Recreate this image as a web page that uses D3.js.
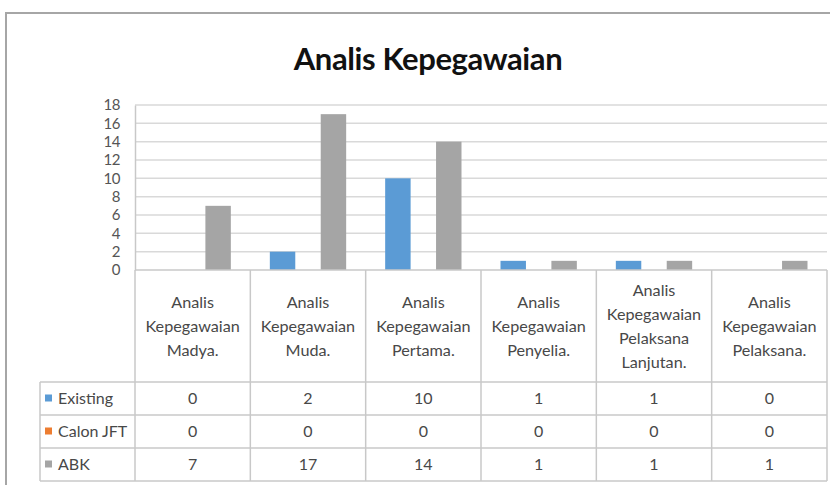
<!DOCTYPE html>
<html>
<head>
<meta charset="utf-8">
<script src="https://cdn.jsdelivr.net/npm/d3@7.9.0/dist/d3.min.js"></script>
<style>
  body { margin: 0; background: #fff; }
  svg { display: block; font-family: Lato, "Open Sans", sans-serif; }
</style>
</head>
<body>
<svg id="chart" width="830" height="485"></svg>
<script>
const title = 'Analis Kepegawaian';
const categories = [
  'Analis Kepegawaian Madya.',
  'Analis Kepegawaian Muda.',
  'Analis Kepegawaian Pertama.',
  'Analis Kepegawaian Penyelia.',
  'Analis Kepegawaian Pelaksana Lanjutan.',
  'Analis Kepegawaian Pelaksana.'
];
const seriesNames = ['Existing', 'Calon JFT', 'ABK'];
const existing = [0, 2, 10, 1, 1, 0];
const calonJft = [0, 0, 0, 0, 0, 0];
const abk = [7, 17, 14, 1, 1, 1];
const yTicks = [0, 2, 4, 6, 8, 10, 12, 14, 16, 18];

const seriesValues = [existing, calonJft, abk];
const colors = d3.scaleOrdinal(seriesNames, ['#5b9bd5', '#ed7d31', '#a5a5a5']);

const svg = d3.select('#chart');
const textColor = '#484848';
const lineColor = '#c8c8c8';

// outer frame (only top and left edges are visible in the crop)
svg.append('path')
  .attr('d', 'M6,485V13H830')
  .attr('fill', 'none')
  .attr('stroke', '#a6a6a6')
  .attr('stroke-width', 2);

svg.append('text')
  .attr('x', 428)
  .attr('y', 70)
  .attr('text-anchor', 'middle')
  .attr('font-size', 31)
  .attr('font-weight', 'bold')
  .attr('fill', '#111')
  .attr('letter-spacing', -0.4)
  .text(title);

const x = d3.scaleBand().domain(categories).range([135, 827]);
const xInner = d3.scaleBand().domain(seriesNames)
  .range([19.5, x.bandwidth() - 19.5]);
const y = d3.scaleLinear().domain([0, 18]).range([270, 105]);

// gridlines
svg.append('g')
  .selectAll('line')
  .data(yTicks.filter(d => d > 0))
  .join('line')
  .attr('x1', 135).attr('x2', 827)
  .attr('y1', d => y(d)).attr('y2', d => y(d))
  .attr('stroke', '#d9d9d9')
  .attr('stroke-width', 1.5);

// y axis
const yAxis = svg.append('g')
  .attr('transform', 'translate(135,0)')
  .call(d3.axisLeft(y).tickValues(yTicks).tickSize(0).tickPadding(15));
yAxis.select('.domain').attr('stroke', lineColor).attr('stroke-width', 1.5);
yAxis.selectAll('text')
  .attr('font-size', 15)
  .attr('font-family', 'Lato, sans-serif')
  .attr('fill', '#555')
  .attr('letter-spacing', -0.5);

// bars
const barData = [];
categories.forEach((c, i) => {
  seriesNames.forEach((s, j) => {
    barData.push({ category: c, series: s, value: seriesValues[j][i] });
  });
});

svg.append('g')
  .selectAll('rect')
  .data(barData)
  .join('rect')
  .attr('x', d => x(d.category) + xInner(d.series))
  .attr('y', d => y(d.value))
  .attr('width', xInner.bandwidth())
  .attr('height', d => y(0) - y(d.value))
  .attr('fill', d => colors(d.series));

// data table
const headerBottom = 382;
const rowHeight = 33;
const tableBottom = headerBottom + rowHeight * seriesNames.length;
const legendLeft = 40;
const table = svg.append('g')
  .attr('stroke', lineColor)
  .attr('stroke-width', 1.5);

// axis baseline
table.append('line')
  .attr('x1', 135).attr('x2', 827)
  .attr('y1', y(0)).attr('y2', y(0));

// column separators
const colEdges = categories.map(c => x(c)).concat([x.range()[1]]);
table.selectAll('line.col')
  .data(colEdges)
  .join('line')
  .attr('class', 'col')
  .attr('x1', d => d).attr('x2', d => d)
  .attr('y1', y(0)).attr('y2', tableBottom);

table.append('line')
  .attr('x1', legendLeft).attr('x2', legendLeft)
  .attr('y1', headerBottom).attr('y2', tableBottom);

table.selectAll('line.row')
  .data(d3.range(seriesNames.length + 1))
  .join('line')
  .attr('class', 'row')
  .attr('x1', legendLeft).attr('x2', 827)
  .attr('y1', i => headerBottom + i * rowHeight)
  .attr('y2', i => headerBottom + i * rowHeight);

// category headers
const lineHeight = 24;
const headerMid = (y(0) + headerBottom) / 2;
const headers = svg.append('g')
  .selectAll('text')
  .data(categories)
  .join('text')
  .attr('text-anchor', 'middle')
  .attr('font-size', 16.2)
  .attr('fill', textColor);

headers.each(function (c) {
  const words = c.split(' ');
  const first = headerMid - (words.length - 1) * lineHeight / 2;
  d3.select(this).selectAll('tspan')
    .data(words)
    .join('tspan')
    .attr('x', x(c) + x.bandwidth() / 2)
    .attr('y', (w, k) => first + k * lineHeight)
    .attr('dy', '0.35em')
    .text(w => w);
});

// rows
seriesNames.forEach((s, j) => {
  const rowMid = headerBottom + j * rowHeight + rowHeight / 2;
  const row = svg.append('g');

  row.append('rect')
    .attr('x', 45)
    .attr('y', rowMid - 4)
    .attr('width', 7)
    .attr('height', 7)
    .attr('fill', colors(s));

  row.append('text')
    .attr('x', 58)
    .attr('y', rowMid)
    .attr('dy', '0.35em')
    .attr('font-size', 16)
    .attr('fill', textColor)
    .text(s);

  row.selectAll('text.val')
    .data(seriesValues[j])
    .join('text')
    .attr('class', 'val')
    .attr('x', (v, i) => x(categories[i]) + x.bandwidth() / 2)
    .attr('y', rowMid)
    .attr('dy', '0.35em')
    .attr('text-anchor', 'middle')
    .attr('font-size', 16)
    .attr('fill', textColor)
    .text(v => v);
});
</script>
</body>
</html>
